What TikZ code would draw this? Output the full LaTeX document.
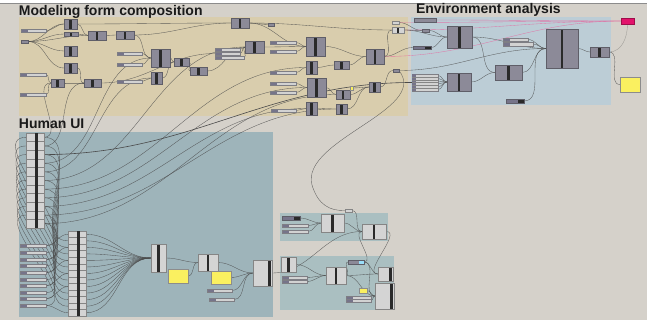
\documentclass[tikz,border=0pt]{standalone}
\usepackage{fontspec}
\setmainfont{Liberation Sans}
\usetikzlibrary{calc}
\pgfdeclarelayer{bg}
\pgfdeclarelayer{wires}
\pgfsetlayers{bg,wires,main}
\definecolor{canvasc}{HTML}{D5D1CA}
\definecolor{tanc}{HTML}{D9CDAD}
\definecolor{envc}{HTML}{BCCDD6}
\definecolor{huic}{HTML}{9EB4BA}
\definecolor{sgc}{HTML}{AABFC1}
\definecolor{pbf}{HTML}{8C8A98}
\definecolor{pbd}{HTML}{5F5E68}
\definecolor{lbf}{HTML}{D4D4D4}
\definecolor{lbd}{HTML}{858585}
\definecolor{barc}{HTML}{2A2A2A}
\definecolor{sll}{HTML}{D2D2D2}
\definecolor{sdk}{HTML}{76748A}
\definecolor{sdr}{HTML}{7E7E84}
\definecolor{yelc}{HTML}{FAF060}
\definecolor{pinkc}{HTML}{E3126B}
\definecolor{wirec}{HTML}{4A4A4A}
\definecolor{titlec}{HTML}{1A1A1A}
\newcommand\gcomp[6]{\node[#1,minimum width={(#5)-(#3)},minimum height={(#6)-(#4)}] (#2) at ({((#3)+(#5))/2},{((#4)+(#6))/2}) {};}
\newcommand\gwire[3][]{\draw[wire,#1] (#2) to[out=0,in=180] (#3);}
\begin{document}
\begin{tikzpicture}[x=1pt,y=-1pt,
  every node/.style={inner sep=0pt,outer sep=0pt},
  title/.style={anchor=base west,text=titlec,font=\fontsize{14}{14}\selectfont\bfseries},
  pbox/.style={draw=pbd,line width=0.4pt,fill=pbf,
    path picture={\fill[barc] ([xshift=-1.3pt]path picture bounding box.north) rectangle ([xshift=1.3pt]path picture bounding box.south);}},
  lbox/.style={draw=lbd,line width=0.4pt,fill=lbf,
    path picture={\fill[barc] ([xshift=-1.3pt]path picture bounding box.north) rectangle ([xshift=1.3pt]path picture bounding box.south);}},
  lboxr/.style={draw=lbd,line width=0.4pt,fill=lbf,
    path picture={\fill[barc] ([xshift=-3.6pt]path picture bounding box.north east) rectangle ([xshift=-0.8pt]path picture bounding box.south east);}},
  slider/.style={draw=sdr,line width=0.3pt,fill=sll,
    path picture={\fill[sdk] (path picture bounding box.north west) rectangle ([xshift=7pt]path picture bounding box.south west);}},
  param/.style={draw=pbd,line width=0.3pt,fill=pbf},
  lparam/.style={draw=lbd,line width=0.3pt,fill=lbf},
  dparam/.style={draw=pbd,line width=0.3pt,fill=sdk,
    path picture={\fill[barc] ([xshift=-6pt]path picture bounding box.north east) rectangle (path picture bounding box.south east);}},
  yel/.style={draw=black!45,line width=0.4pt,fill=yelc},
  wire/.style={draw=wirec,line width=0.35pt,opacity=0.85},
  pwire/.style={draw=pinkc!70,line width=0.35pt,opacity=0.7},
  rowline/.style={draw=lbd,line width=0.3pt}
]
\useasboundingbox (0,0) rectangle (653,320);
\begin{pgfonlayer}{bg}
\fill[white] (0,0) rectangle (653,320);
\fill[canvasc] (0,3) rectangle (647,320);
\draw[black!45,line width=0.5pt] (0,3) -- (647,3);
\fill[tanc] (19,17) rectangle (408,116);
\fill[envc] (411,17) rectangle (611,105);
\fill[huic] (19,132) rectangle (273,317);
\fill[sgc] (280,213) rectangle (388,241);
\fill[sgc] (280,256) rectangle (394,310);
\end{pgfonlayer}

\node[title] (tMod) at (19,16) {Modeling form composition};
\node[title] (tEnv) at (416,14) {Environment analysis};
\node[title] (tHui) at (19,129) {Human UI};

% ---------- Modeling form composition ----------
\gcomp{slider}{mS1}{21}{29}{46}{32}
\gcomp{param}{mP1}{21}{40}{28}{43}
\gcomp{slider}{mS2}{20}{73}{46}{76}
\gcomp{slider}{mS3}{20}{93}{46}{96}
\gcomp{pbox}{mA}{64}{19}{77}{29}
\gcomp{pbox}{mB}{64}{32}{78}{36}
\gcomp{pbox}{mC}{64}{46}{77}{56}
\gcomp{pbox}{mD}{64}{63}{77}{73}
\gcomp{pbox}{mE}{88}{31}{106}{40}
\gcomp{pbox}{mF}{116}{31}{134}{39}
\gcomp{pbox}{mG}{51}{79}{64}{87}
\gcomp{pbox}{mH}{84}{79}{101}{87}
\gcomp{slider}{mS4}{117}{52}{142}{55}
\gcomp{slider}{mS5}{117}{63}{142}{66}
\gcomp{slider}{mS6}{117}{80}{142}{83}
\gcomp{pbox}{mI}{151}{49}{170}{67}
\gcomp{pbox}{mJ}{174}{58}{189}{66}
\gcomp{pbox}{mK}{190}{67}{207}{75}
\gcomp{pbox}{mL}{151}{72}{162}{84}
\gcomp{pbox}{mM}{231}{18}{249}{28}
\gcomp{param}{mP2}{268}{23}{274}{26}
\gcomp{pbox}{mN}{245}{41}{264}{53}
\gcomp{slider}{mS7}{215}{48}{240}{51}
\gcomp{slider}{mS8}{215}{52}{240}{55}
\gcomp{slider}{mS9}{215}{56}{244}{59}
\gcomp{slider}{mS10}{270}{41}{296}{44}
\gcomp{slider}{mS11}{270}{50}{296}{53}
\gcomp{pbox}{mO}{306}{37}{325}{56}
\gcomp{pbox}{mQ}{306}{61}{317}{74}
\gcomp{slider}{mS12}{270}{71}{296}{74}
\gcomp{pbox}{mR}{334}{61}{349}{69}
\gcomp{pbox}{mT}{307}{78}{326}{97}
\gcomp{slider}{mS13}{270}{82}{296}{85}
\gcomp{slider}{mS14}{270}{91}{296}{94}
\gcomp{pbox}{mU}{366}{49}{384}{64}
\gcomp{pbox}{mV}{336}{90}{350}{99}
\gcomp{yel}{mY}{350}{86}{353}{90}
\gcomp{pbox}{mW}{369}{82}{380}{92}
\gcomp{param}{mP3}{393}{69}{399}{72}
\gcomp{pbox}{mX}{306}{102}{317}{115}
\gcomp{pbox}{mZ}{336}{104}{347}{114}
\gcomp{slider}{mS15}{271}{109}{296}{112}
\gcomp{lparam}{mP4}{392}{21}{399}{24}
\gcomp{lbox}{mAA}{392}{27}{404}{33}

% ---------- Environment analysis ----------
\gcomp{param}{eBar}{414}{18}{436}{22}
\gcomp{param}{eP1}{422}{29}{429}{32}
\gcomp{pbox}{eA}{447}{26}{472}{48}
\gcomp{dparam}{eP2}{413}{46}{431}{49}
\gcomp{slider}{eS1}{503}{38}{528}{41}
\gcomp{slider}{eS2}{503}{42}{533}{46}
\gcomp{pbox}{eB}{546}{29}{578}{68}
\gcomp{pbox}{eC}{590}{47}{609}{57}
\gcomp{pbox}{eD}{495}{65}{522}{80}
\node[draw=sdr,line width=0.3pt,fill=sll,minimum width=26,minimum height=17] (eMS) at (425,82.5) {};
\foreach \k in {0,...,5} {
  \fill[sdk] (412.2,{74+\k*17/6}) rectangle (416,{74+(\k+1)*17/6});
  \coordinate (emo\k) at (438,{74+(\k+0.5)*17/6});
}
\foreach \k in {1,...,5} {\draw[rowline] (412,{74+\k*17/6}) -- (438,{74+\k*17/6});}
\gcomp{pbox}{eE}{447}{73}{471}{91}
\gcomp{dparam}{eP3}{506}{99}{524}{103}
\gcomp{draw=pinkc!70!black,line width=0.3pt,fill=pinkc}{ePink}{621}{18}{634}{24}
\gcomp{yel}{eYel}{620}{77}{640}{92}

% ---------- Human UI ----------
\node[draw=lbd,line width=0.4pt,fill=lbf,minimum width=18,minimum height=95] (hP1) at (35,180.5) {};
\foreach \k in {1,...,10} {\draw[rowline] (26,{133+\k*95/11}) -- (44,{133+\k*95/11});}
\fill[barc] (35,133) rectangle (38,228);
\foreach \k in {1,...,11} {
  \coordinate (p1o\k) at (44,{133+(\k-0.5)*95/11});
  \coordinate (p1i\k) at (26,{133+(\k-0.5)*95/11});
}
\node[draw=lbd,line width=0.4pt,fill=lbf,minimum width=18,minimum height=85] (hP2) at (77,273.5) {};
\foreach \k in {1,...,12} {\draw[rowline] (68,{231+\k*85/13}) -- (86,{231+\k*85/13});}
\fill[barc] (77,231) rectangle (80,316);
\foreach \k in {1,...,13} {
  \coordinate (p2o\k) at (86,{231+(\k-0.5)*85/13});
  \coordinate (p2i\k) at (68,{231+(\k-0.5)*85/13});
}
\foreach \i/\y in {1/244,2/251,3/258,4/264,5/271,6/278,7/284,8/291,9/297,10/304} {
  \gcomp{slider}{hS\i}{20}{\y}{46}{\y+3}
}
\gcomp{lbox}{hA}{151}{244}{166}{272}
\gcomp{yel}{hY1}{168}{269}{188}{283}
\gcomp{lbox}{hB}{198}{254}{218}{271}
\gcomp{yel}{hY2}{211}{271}{231}{284}
\gcomp{lboxr}{hC}{253}{260}{272}{286}
\gcomp{slider}{hS11}{207}{289}{232}{292}
\gcomp{slider}{hS12}{209}{298}{234}{301}

% ---------- small groups ----------
\gcomp{dparam}{aP}{282}{216}{300}{220}
\gcomp{slider}{aS1}{282}{224}{308}{227}
\gcomp{slider}{aS2}{282}{230}{308}{233}
\gcomp{lbox}{aA}{321}{214}{344}{232}
\gcomp{lbox}{aB}{362}{224}{386}{239}
\gcomp{lparam}{aP2}{345}{209}{352}{212}
\gcomp{lbox}{bA}{281}{257}{296}{272}
\gcomp{slider}{bS1}{282}{276}{307}{279}
\gcomp{slider}{bS2}{282}{280}{307}{283}
\gcomp{lbox}{bB}{326}{267}{346}{284}
\gcomp{param,path picture={\fill[cyan!40!white] ([xshift=-5pt]path picture bounding box.north east) rectangle (path picture bounding box.south east);}}{bP}{348}{260}{364}{264}
\gcomp{lboxr}{bC}{378}{267}{393}{281}
\gcomp{lboxr}{bD}{375}{283}{394}{309}
\gcomp{yel}{bY}{359}{288}{367}{293}
\gcomp{slider}{bS3}{346}{296}{371}{299}
\gcomp{slider}{bS4}{346}{299}{371}{302}

% ---------- wires ----------
\begin{pgfonlayer}{wires}
% modeling
\gwire{mS1.east}{mA.west}
\gwire{mP1.east}{mA.west}
\gwire{mP1.east}{mB.west}
\gwire{mP1.east}{mC.west}
\gwire{mP1.east}{mD.west}
\gwire{mP1.east}{mE.west}
\gwire{mA.east}{mE.west}
\gwire{mB.east}{mE.west}
\gwire{mE.east}{mF.west}
\gwire{mA.east}{mM.west}
\gwire{mF.east}{mM.west}
\gwire{mF.east}{mI.west}
\gwire{mS2.east}{mG.west}
\gwire{mS3.east}{mG.west}
\gwire{mG.east}{mH.west}
\gwire{mD.east}{mH.west}
\gwire{mS4.east}{mI.west}
\gwire{mS5.east}{mI.west}
\gwire{mS6.east}{mL.west}
\gwire{mL.east}{mJ.west}
\gwire{mI.east}{mJ.west}
\gwire{mJ.east}{mK.west}
\gwire{mK.east}{mN.west}
\gwire{mH.east}{mS8.west}
\gwire{mS7.east}{mN.west}
\gwire{mS8.east}{mN.west}
\gwire{mS9.east}{mN.west}
\gwire{mM.east}{mP2.west}
\gwire{mM.east}{mAA.west}
\gwire{mM.east}{mO.west}
\gwire{mN.east}{mO.west}
\gwire{mS10.east}{mO.west}
\gwire{mS11.east}{mO.west}
\gwire{mS12.east}{mQ.west}
\gwire{mQ.east}{mR.west}
\gwire{mR.east}{mU.west}
\gwire{mO.east}{mU.west}
\gwire{mS13.east}{mT.west}
\gwire{mS14.east}{mT.west}
\gwire{mT.east}{mV.west}
\gwire{mV.east}{mW.west}
\gwire{mY.east}{mW.west}
\gwire{mW.east}{mP3.west}
\gwire{mS15.east}{mX.west}
\gwire{mX.east}{mZ.west}
\gwire{mZ.east}{mW.west}
\gwire{mU.east}{mAA.west}
\gwire{mP4.east}{eP1.west}
\gwire{mAA.east}{eP1.west}
\gwire{mAA.east}{eA.west}
\gwire{mU.east}{eP2.west}
\gwire{mP3.east}{eB.west}
\draw[pwire] (mAA.east) to[out=0,in=180] (ePink.west);
\draw[pwire] (mU.east) to[out=0,in=180] (ePink.west);
\draw[pwire] (eBar.east) to[out=0,in=180] (ePink.west);
\draw[pwire] (mP4.east) to[out=0,in=180] (ePink.west);
% environment
\gwire{eP1.east}{eA.west}
\gwire{eP2.east}{eA.west}
\gwire{eA.east}{eB.west}
\gwire{eA.east}{eD.west}
\gwire{eS1.east}{eB.west}
\gwire{eS2.east}{eB.west}
\gwire{eD.east}{eB.west}
\gwire{eE.east}{eD.west}
\gwire{eP3.east}{eB.west}
\gwire{eB.east}{eC.west}
\gwire{eC.east}{eYel.west}
\draw[wire,opacity=0.4] (eC.east) to[out=0,in=-90] (ePink.south);
\foreach \k in {0,...,5} {\draw[wire] (emo\k) to[out=0,in=180] (eE.west);}
% human UI
\foreach \i in {1,...,10} {\draw[wire] (hS\i.east) to[out=0,in=180] (p1i\i);}
\foreach \k/\j in {1/2,2/3,3/4,4/5,5/6,6/7,7/8,8/9,9/10,10/11,11/12} {\draw[wire] (p1o\k) to[out=0,in=180] (p2i\j);}
\foreach \i/\j in {1/1,3/3,5/5,7/7,9/9,10/13} {\draw[wire] (hS\i.east) to[out=0,in=180] (p2i\j);}
\foreach \k/\t in {1/mG,2/mH,4/mI,5/mL,6/mN,7/mQ,8/mT,9/mX,10/mZ,11/mV} {\draw[wire] (p1o\k) to[out=0,in=180] (\t.west);}
\draw[wire,line width=0.6pt,opacity=1] (p1o3) to[out=0,in=180] (eMS.west);
\foreach \k in {1,...,13} {\draw[wire] (p2o\k) to[out=0,in=180] (hA.west);}
\gwire{hA.east}{hB.west}
\gwire{hY1.east}{hB.west}
\gwire{hB.east}{hC.west}
\gwire{hY2.east}{hC.west}
\gwire{hS11.east}{hC.west}
\gwire{hS12.east}{hC.west}
\gwire{hC.east}{aB.west}
% small groups
\draw[wire] (mP3.east) .. controls (430,110) and (300,140) .. (312,185) .. controls (318,205) and (330,211) .. (aP2.west);
\gwire{aP.east}{aA.west}
\gwire{aS1.east}{aA.west}
\gwire{aS2.east}{aA.west}
\gwire{aA.east}{aB.west}
\gwire{aP2.east}{aB.west}
\gwire{bP.east}{aB.west}
\gwire{aB.east}{bC.west}
\gwire{bA.east}{bB.west}
\gwire{bS1.east}{bB.west}
\gwire{bS2.east}{bB.west}
\gwire{bB.east}{bC.west}
\gwire{bB.east}{bD.west}
\gwire{bB.east}{bP.west}
\gwire{bP.east}{bC.west}
\gwire{bP.east}{bD.west}
\gwire{bY.east}{bD.west}
\gwire{bS3.east}{bD.west}
\gwire{bS4.east}{bD.west}
\end{pgfonlayer}
\end{tikzpicture}
\end{document}
